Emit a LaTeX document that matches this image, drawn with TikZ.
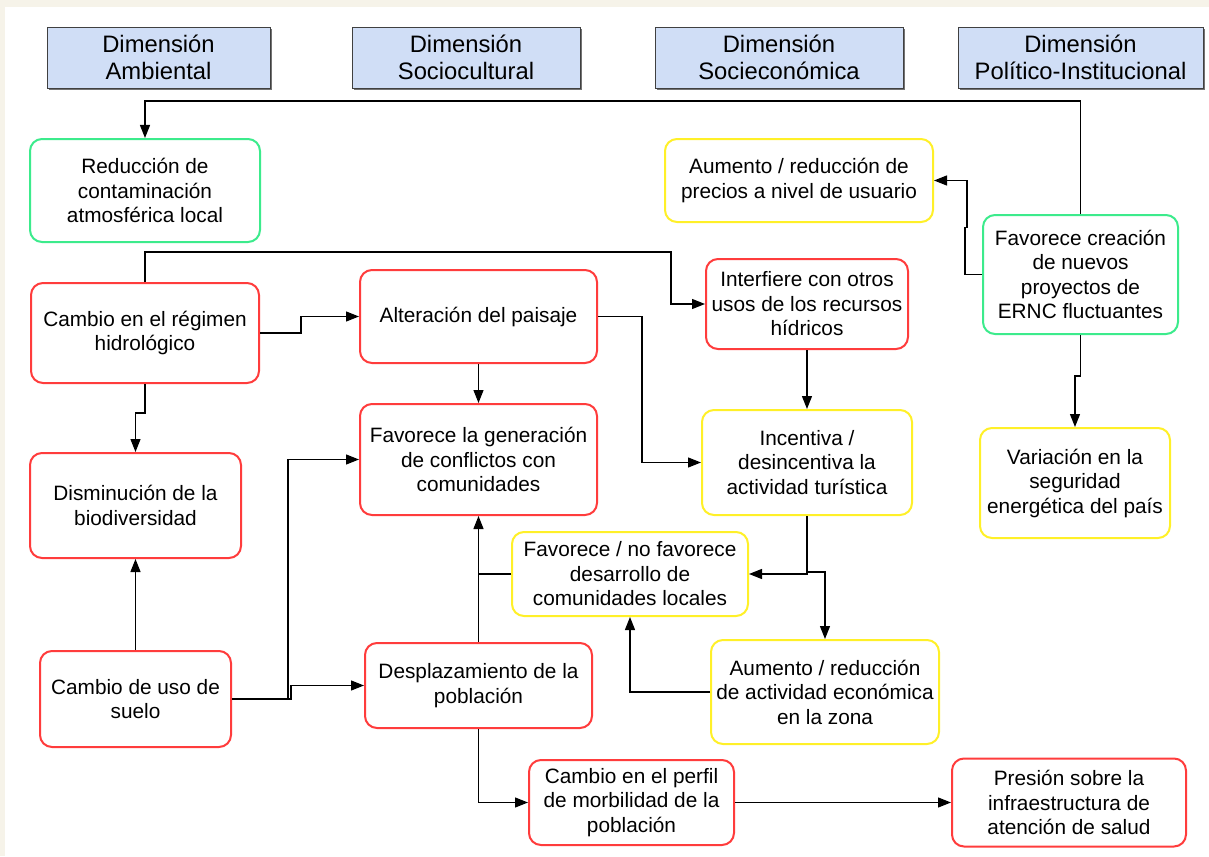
\documentclass[tikz,border=0pt]{standalone}
\usepackage{fontspec}
\setmainfont{Liberation Sans}
\usetikzlibrary{positioning, arrows.meta, shadows}

\definecolor{hdrblue}{RGB}{208,222,246}
\definecolor{boxred}{RGB}{255,60,60}
\definecolor{boxgreen}{RGB}{60,235,140}
\definecolor{boxyellow}{RGB}{255,240,40}
\definecolor{paper}{RGB}{246,243,233}

\newcommand{\boxfont}{\fontsize{10.4}{12.25}\selectfont}
\newcommand{\dimfont}{\fontsize{11.9}{13.6}\selectfont}

\begin{document}
\begin{tikzpicture}[
    x=0.5pt, y=-0.5pt,
    dim/.style={
      draw=black!75, fill=hdrblue, minimum height=30.5pt, inner sep=2pt,
      align=center, font=\dimfont,
      drop shadow={shadow xshift=1.2pt, shadow yshift=-1.2pt, fill=black!55, opacity=1}
    },
    effect/.style={
      draw, fill=white, line width=1pt, rounded corners=6pt, inner sep=2pt,
      align=center, font=\boxfont
    },
    negbox/.style={effect, draw=boxred},
    posbox/.style={effect, draw=boxgreen},
    ambbox/.style={effect, draw=boxyellow},
    arr/.style={-{Triangle[length=6.5pt, width=5pt]}, line width=0.65pt},
    lnk/.style={line width=0.65pt}
  ]
    % Page
    \useasboundingbox (0,0) rectangle (1209,856);
    \fill[paper] (0,0) rectangle (1209,856);
    \fill[white] (5,7) rectangle (1209,856);

    % Dimensions (header row)
    \node[dim, minimum width=111.5pt] (dimamb) at (158.5, 57.5) {Dimensión\\Ambiental};
    \node[dim, minimum width=114pt]   (dimsoc) at (466, 57.5)   {Dimensión\\Sociocultural};
    \node[dim, minimum width=124pt]   (dimeco) at (779, 57.5)   {Dimensión\\Socieconómica};
    \node[dim, minimum width=122.5pt] (dimpol) at (1080.5, 57.5) {Dimensión\\Político-Institucional};

    % Effects
    \node[posbox, minimum width=115pt, minimum height=51.5pt] (contam) at (145, 190.5)
      {Reducción de\\contaminación\\atmosférica local};
    \node[ambbox, minimum width=134pt, minimum height=41.5pt] (precios) at (799, 180.5)
      {Aumento / reducción de\\precios a nivel de usuario};
    \node[posbox, minimum width=97.5pt, minimum height=59.5pt] (ernc) at (1080.5, 274.5)
      {Favorece creación\\de nuevos\\proyectos de\\ERNC fluctuantes};
    \node[negbox, minimum width=114pt, minimum height=50pt] (hidro) at (145, 333)
      {Cambio en el régimen\\hidrológico};
    \node[negbox, minimum width=118.5pt, minimum height=46.5pt] (paisaje) at (478.5, 316.5)
      {Alteración del paisaje};
    \node[negbox, minimum width=101pt, minimum height=45pt] (hidricos) at (807, 304)
      {Interfiere con otros\\usos de los recursos\\hídricos};
    \node[negbox, minimum width=118.5pt, minimum height=55.5pt] (conflictos) at (478.5, 459.5)
      {Favorece la generación\\de conflictos con\\comunidades};
    \node[ambbox, minimum width=105pt, minimum height=52.5pt] (turismo) at (807, 462.5)
      {Incentiva /\\desincentiva la\\actividad turística};
    \node[ambbox, minimum width=95pt, minimum height=55pt] (energia) at (1075, 483)
      {Variación en la\\seguridad\\energética del país};
    \node[negbox, minimum width=105.5pt, minimum height=52.5pt] (biodiv) at (135.5, 505.5)
      {Disminución de la\\biodiversidad};
    \node[ambbox, minimum width=118pt, minimum height=42pt] (desarrollo) at (630, 574)
      {Favorece / no favorece\\desarrollo de\\comunidades locales};
    \node[negbox, minimum width=95.5pt, minimum height=48pt] (suelo) at (135.5, 699)
      {Cambio de uso de\\suelo};
    \node[negbox, minimum width=113.5pt, minimum height=42.5pt] (desplaz) at (478.5, 685.5)
      {Desplazamiento de la\\población};
    \node[ambbox, minimum width=114pt, minimum height=52pt] (economia) at (825, 692)
      {Aumento / reducción\\de actividad económica\\en la zona};
    \node[negbox, minimum width=102.5pt, minimum height=42.5pt] (morbilidad) at (631.5, 802.5)
      {Cambio en el perfil\\de morbilidad de la\\población};
    \node[negbox, minimum width=117pt, minimum height=44pt] (salud) at (1069, 802.5)
      {Presión sobre la\\infraestructura de\\atención de salud};

    % Connectors from the political-institutional effect
    \draw[arr] (ernc.north) -- ++(0,-113) -| (contam.north);
    \draw[arr] (ernc.west) -- ++(-17,0) -- ++(0,-47) -- ++(2,0) |- (precios.east);
    \draw[arr] (ernc.south) -- ++(0,41) -| (energia.north);

    % Connectors from the hydrological regime
    \draw[arr] (hidro.north) -- ++(0,-30) -| ([xshift=-17pt]hidricos.west) -- (hidricos.west);
    \draw[arr] (hidro.east) -- ++(41,0) |- (paisaje.west);
    \draw[arr] (hidro.south) -- ++(0,29) -| (biodiv.north);

    % Landscape, water uses and tourism
    \draw[arr] (paisaje.south) -- (conflictos.north);
    \draw[arr] (paisaje.east) -- ++(44,0) |- (turismo.west);
    \draw[arr] (hidricos.south) -- (turismo.north);
    \draw[arr] (turismo.south) |- (desarrollo.east);
    \draw[arr] (turismo.south) -- ++(0,56) -| (economia.north);
    \draw[arr] (economia.west) -| (desarrollo.south);

    % Land use and population
    \draw[arr] (suelo.north) -- (biodiv.south);
    \draw[arr] (suelo.east) -- ++(56,0) |- (conflictos.west);
    \draw[arr] (suelo.east) -- ++(59,0) |- (desplaz.west);
    \draw[arr] (desplaz.north) -- (conflictos.south);
    \draw[lnk] (desarrollo.west) -- (desarrollo.west -| conflictos.south);
    \draw[arr] (desplaz.south) |- (morbilidad.west);
    \draw[arr] (morbilidad.east) -- (salud.west);
  \end{tikzpicture}
\end{document}
